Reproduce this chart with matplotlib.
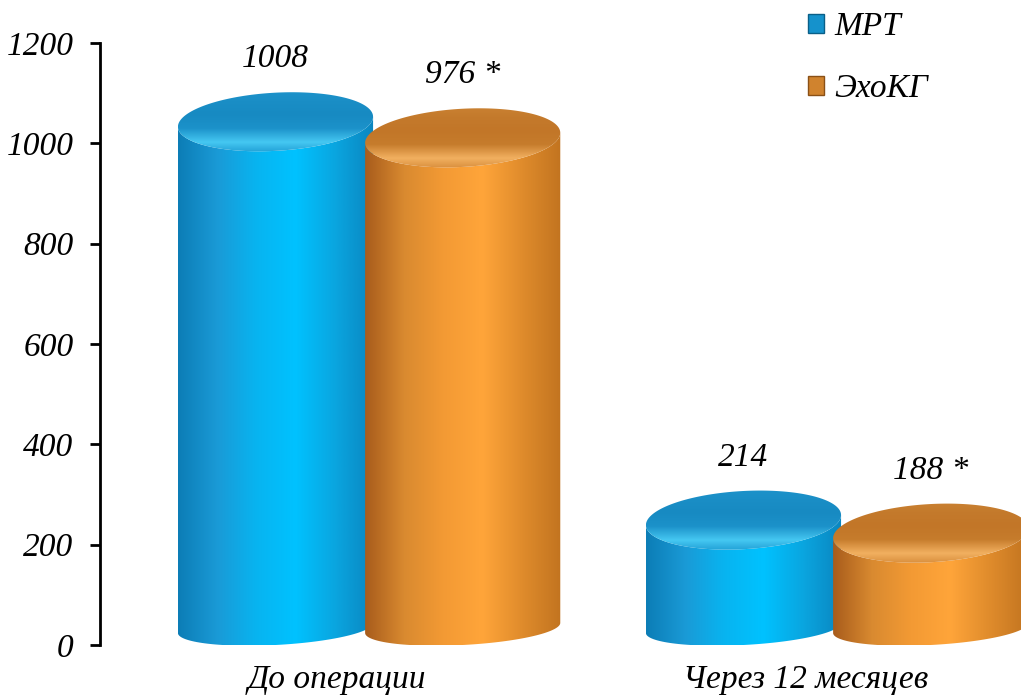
import numpy as np
import matplotlib.pyplot as plt
from matplotlib.path import Path
from matplotlib.patches import PathPatch, Patch
from matplotlib.colors import LinearSegmentedColormap

# data
categories = ['До операции', 'Через 12 месяцев']
series = ['МРТ', 'ЭхоКГ']
mrt = [1008, 214]
echo = [976, 188]
mrt_labels = ['1008', '214']
echo_labels = ['976 *', '188 *']
yticks = [0, 200, 400, 600, 800, 1000, 1200]

plt.rcParams['font.family'] = ['Liberation Serif', 'DejaVu Serif']
plt.rcParams['font.style'] = 'italic'
plt.rcParams['font.size'] = 24

blue_body = LinearSegmentedColormap.from_list('bb', ['#0c7db6', '#1a9ad6', '#08b4f0', '#00c2ff', '#0aa6e0', '#0a86c0'])
orange_body = LinearSegmentedColormap.from_list('ob', ['#a85c1c', '#d98a30', '#f39a34', '#ffa53a', '#e08c2c', '#c27420'])
blue_top = LinearSegmentedColormap.from_list('bt', ['#1e94cc', '#1a8ec6', '#178ac2', '#1c92ca', '#45c8f2', '#1592cc'])
orange_top = LinearSegmentedColormap.from_list('ot', ['#cc8434', '#c47a2c', '#c27628', '#c67c2c', '#f2b060', '#cf8230'])

fig = plt.figure(figsize=(10.21, 6.99), dpi=100)
ax = fig.add_axes([100 / 1021, 54 / 699, 921 / 1021, 602 / 699])

width = 0.417
offset = 0.40
slope = 48.0      # tilt of the ellipses (y units per x unit)
top_off = 35.0    # top ellipse centre above the value
top_b = 58.0      # half height of top ellipse
bot_c = 34.0      # bottom ellipse centre
bot_b = 34.0


def cylinder(xc, val, body_cmap, top_cmap, z):
    a = width / 2
    yt = val + top_off
    th = np.linspace(np.pi, 2 * np.pi, 80)
    # front arc of top ellipse (left -> right)
    xf = xc + a * np.cos(th)
    yf = yt + top_b * np.sin(th) + slope * (xf - xc)
    # bottom arc (right -> left)
    th2 = np.linspace(2 * np.pi, np.pi, 80)
    xb = xc + a * np.cos(th2)
    yb = bot_c + bot_b * np.sin(th2) + slope * (xb - xc)
    verts = np.concatenate([np.column_stack([xf, yf]), np.column_stack([xb, yb])])
    verts = np.vstack([verts, verts[:1]])
    body = PathPatch(Path(verts, closed=True), fc='none', ec='none', zorder=z)
    ax.add_patch(body)
    grad = np.linspace(0, 1, 256).reshape(1, -1)
    im = ax.imshow(grad, cmap=body_cmap, extent=(xc - a, xc + a, 0, yt + top_b + slope * a),
                   aspect='auto', origin='lower', zorder=z)
    im.set_clip_path(body)

    # top ellipse
    th3 = np.linspace(0, 2 * np.pi, 160)
    xe = xc + a * np.cos(th3)
    ye = yt + top_b * np.sin(th3) + slope * (xe - xc)
    top = PathPatch(Path(np.column_stack([xe, ye]), closed=True), fc='none', ec='none', zorder=z + 0.1)
    ax.add_patch(top)
    vg = np.linspace(1, 0, 256).reshape(-1, 1)
    im2 = ax.imshow(vg, cmap=top_cmap, extent=(xc - a, xc + a, yt - top_b - slope * a, yt + top_b + slope * a),
                    aspect='auto', origin='lower', zorder=z + 0.1)
    im2.set_clip_path(top)


x = np.arange(len(categories))
for i in range(len(categories)):
    cylinder(x[i] - offset / 2, mrt[i], blue_body, blue_top, 2 + i * 2)
    cylinder(x[i] + offset / 2, echo[i], orange_body, orange_top, 3 + i * 2)
    ax.text(x[i] - offset / 2, mrt[i] + 160, mrt_labels[i], ha='center', va='center')
    ax.text(x[i] + offset / 2, echo[i] + 160, echo_labels[i], ha='center', va='center')

ax.set_xlim(-0.575, 1.393)
ax.set_ylim(0, 1200)
ax.set_yticks(yticks)
ax.set_xticks(x - 0.068)
ax.set_xticklabels(categories)
ax.tick_params(axis='x', length=0, pad=14)
ax.tick_params(axis='y', length=7, width=2, direction='out', pad=12)
for s in ['top', 'right', 'bottom']:
    ax.spines[s].set_visible(False)
ax.spines['left'].set_linewidth(2)

handles = [Patch(fc='#1592cc', ec='#0a5f88', lw=1), Patch(fc='#d0832e', ec='#8a5016', lw=1)]
fig.legend(handles, series, loc='upper left', bbox_to_anchor=(791 / 1021, 1 + 5 / 699),
           frameon=False, handlelength=0.5, handleheight=0.5, handletextpad=0.3,
           labelspacing=0.95, borderpad=0)

fig.savefig('out.png', dpi=100)
